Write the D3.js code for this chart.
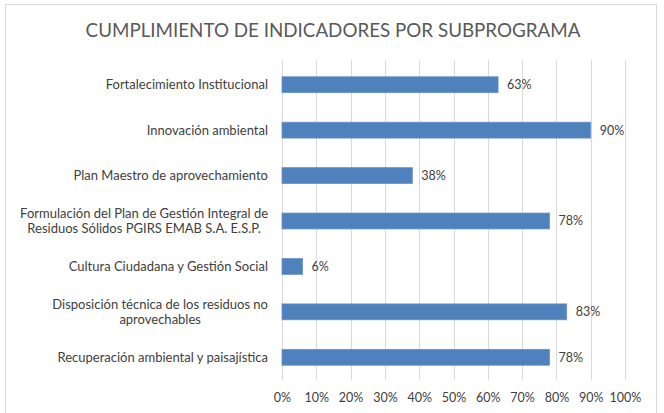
<!DOCTYPE html>
<html>
<head>
<meta charset="utf-8">
<script src="https://cdn.jsdelivr.net/npm/d3@7"></script>
<style>
  body { margin: 0; background: #fff; }
  svg text { font-family: Lato, "Open Sans", sans-serif; fill: #404040; }
</style>
</head>
<body>
<svg id="chart" width="664" height="413"></svg>
<script>
var title = "CUMPLIMIENTO DE INDICADORES POR SUBPROGRAMA";
// categories top to bottom, label lines
var categories = [
    ["Fortalecimiento Institucional"],
    ["Innovación ambiental"],
    ["Plan Maestro de aprovechamiento"],
    ["Formulación del Plan de Gestión Integral de", "Residuos Sólidos PGIRS EMAB S.A. E.S.P."],
    ["Cultura Ciudadana y Gestión Social"],
    ["Disposición técnica de los residuos no", "aprovechables"],
    ["Recuperación ambiental y paisajística"]
];
var values = [0.63, 0.90, 0.38, 0.78, 0.06, 0.83, 0.78];
var ticks = [0, 0.1, 0.2, 0.3, 0.4, 0.5, 0.6, 0.7, 0.8, 0.9, 1.0];

var svg = d3.select("#chart");
var margin = {top: 62, right: 39, bottom: 33, left: 282};
var width = +svg.attr("width") - margin.left - margin.right;
var height = +svg.attr("height") - margin.top - margin.bottom;

// outer frame
svg.append("rect")
    .attr("x", 5.5).attr("y", 4.5)
    .attr("width", 651).attr("height", 420)
    .attr("fill", "#fff")
    .attr("stroke", "#d9d9d9");

svg.append("text")
    .attr("x", 333).attr("y", 37)
    .attr("text-anchor", "middle")
    .style("font-size", "18.8px")
    .style("fill", "#595959")
    .text(title);

var g = svg.append("g").attr("transform", "translate(" + margin.left + "," + margin.top + ")");

var x = d3.scaleLinear().domain([0, 1]).range([0, width]);
var y = d3.scaleBand()
        .domain(d3.range(categories.length))
        .range([0, height])
        .paddingInner(0.65)
        .paddingOuter(0.325);

// gridlines
g.selectAll(".grid")
    .data(ticks)
    .enter().append("line")
    .attr("x1", function (d) { return Math.round(x(d)) + 0.5; })
    .attr("x2", function (d) { return Math.round(x(d)) + 0.5; })
    .attr("y1", -2)
    .attr("y2", height)
    .attr("stroke", "#d9d9d9");

// x tick labels
var xAxis = g.append("g")
    .attr("transform", "translate(0," + height + ")")
    .call(d3.axisBottom(x).tickValues(ticks).tickFormat(d3.format(".0%")).tickSize(0).tickPadding(13));
xAxis.select(".domain").remove();
xAxis.selectAll("text")
    .style("font-size", "12.5px")
    .style("font-family", "Lato, 'Open Sans', sans-serif")
    .attr("fill", "#595959");

// bars
g.selectAll(".bar")
    .data(values)
    .enter().append("rect")
    .attr("x", 0)
    .attr("y", function (d, i) { return y(i); })
    .attr("width", function (d) { return x(d); })
    .attr("height", y.bandwidth())
    .attr("fill", "#4f81bd")
    .attr("stroke", "#6a93c8")
    .attr("stroke-width", 0.8);

// value labels
g.selectAll(".val")
    .data(values)
    .enter().append("text")
    .attr("x", function (d) { return x(d) + 9; })
    .attr("y", function (d, i) { return y(i) + y.bandwidth() / 2; })
    .attr("dy", "0.35em")
    .style("font-size", "12.5px")
    .text(function (d) { return Math.round(d * 100) + "%"; });

// category labels
var lineH = 15.5;
g.selectAll(".cat")
    .data(categories)
    .enter().append("text")
    .attr("text-anchor", "middle")
    .attr("y", function (d, i) { return y(i) + y.bandwidth() / 2; })
    .style("font-size", "13px")
    .each(function (lines) {
        var t = d3.select(this);
        var w = 0;
        lines.forEach(function (l, k) {
            t.append("tspan")
                .attr("dy", (k === 0 ? (-(lines.length - 1) * lineH / 2) : lineH) + (k === 0 ? 4.5 : 0))
                .text(l);
        });
        // right align the block, centre lines within it
        var spans = t.selectAll("tspan").nodes();
        spans.forEach(function (s) { w = Math.max(w, s.getComputedTextLength()); });
        spans.forEach(function (s) { d3.select(s).attr("x", -14 - w / 2); });
    });
</script>
</body>
</html>
